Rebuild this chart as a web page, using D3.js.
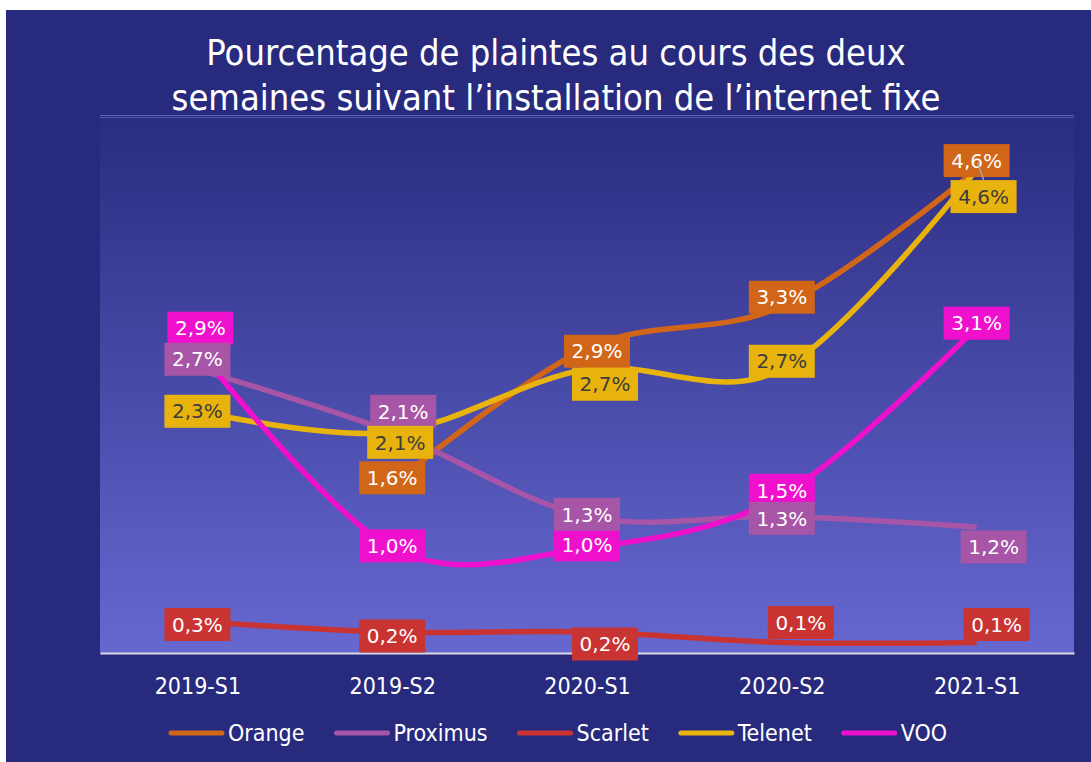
<!DOCTYPE html>
<html>
<head>
<meta charset="utf-8">
<script src="https://cdn.jsdelivr.net/npm/d3@7"></script>
<style>
  body { margin: 0; background: #fff; }
  .axis text { font-family: "DejaVu Sans Condensed", "DejaVu Sans", sans-serif; font-size: 23px; fill: #fff; }
</style>
</head>
<body>
<div id="chart"></div>
<script>
// data
var periods = ["2019-S1", "2019-S2", "2020-S1", "2020-S2", "2021-S1"];
var orange   = [null, 1.6, 2.9, 3.3, 4.6];
var proximus = [2.7, 2.1, 1.3, 1.3, 1.2];
var scarlet  = [0.3, 0.2, 0.2, 0.1, 0.1];
var telenet  = [2.3, 2.1, 2.7, 2.7, 4.6];
var voo      = [2.9, 1.0, 1.0, 1.5, 3.1];
var titleLines = ["Pourcentage de plaintes au cours des deux", "semaines suivant l\u2019installation de l\u2019internet fixe"];

(function(){
  var W = 1091, H = 762;
  var margin = {top: 116, right: 17, bottom: 109, left: 100};
  var width = W - margin.left - margin.right;
  var height = H - margin.top - margin.bottom;

  var series = [
    {id: "Orange",   values: orange,   color: "#d16518", text: "#fff"},
    {id: "Proximus", values: proximus, color: "#a755a6", text: "#fff"},
    {id: "Scarlet",  values: scarlet,  color: "#c93433", text: "#fff"},
    {id: "Telenet",  values: telenet,  color: "#e9b30e", text: "#3d3d3d"},
    {id: "VOO",      values: voo,      color: "#ef10cd", text: "#fff"}
  ];

  // label nudges (px) so boxes sit like on the slide
  var nudge = {
    Orange:   [[0,0],[0,-7],[10,3],[0,-9],[0,-9]],
    Proximus: [[0,-10],[11,-21],[0,-2],[0,2],[17,20]],
    Scarlet:  [[0,3],[0,4],[18,12],[19,-20],[20,-18]],
    Telenet:  [[0,0],[8,10],[18,15],[0,-8],[7,27]],
    VOO:      [[3,-20],[0,-2],[0,-3],[0,-5],[0,-4]]
  };
  var labelOrder = ["VOO", "Orange", "Scarlet", "Proximus", "Telenet"];

  var svg = d3.select("#chart").append("svg")
    .attr("width", W)
    .attr("height", H);

  var defs = svg.append("defs");
  var grad = defs.append("linearGradient")
    .attr("id", "plotbg")
    .attr("x1", 0).attr("y1", 0).attr("x2", 0).attr("y2", 1);
  grad.append("stop").attr("offset", "0%").attr("stop-color", "#2a2c80");
  grad.append("stop").attr("offset", "100%").attr("stop-color", "#6668d0");

  // slide background
  svg.append("rect")
    .attr("x", 6).attr("y", 10)
    .attr("width", W - 6).attr("height", H - 10)
    .attr("fill", "#282a7e");

  // title
  var title = svg.append("text")
    .attr("text-anchor", "middle")
    .style("font-family", "'DejaVu Sans Condensed', 'DejaVu Sans', sans-serif")
    .style("font-size", "36px")
    .attr("fill", "#fff");
  titleLines.forEach(function(t, i) {
    title.append("tspan").attr("x", 556).attr("y", 65 + i * 45).text(t);
  });

  var g = svg.append("g").attr("transform", "translate(" + margin.left + "," + margin.top + ")");

  g.append("rect")
    .attr("width", width)
    .attr("height", height)
    .attr("fill", "url(#plotbg)");
  g.append("line")
    .attr("x1", 0).attr("x2", width)
    .attr("y1", -0.5).attr("y2", -0.5)
    .attr("stroke", "#5d5fb6").attr("stroke-width", 1);
  g.append("line")
    .attr("x1", 0).attr("x2", width)
    .attr("y1", 1.5).attr("y2", 1.5)
    .attr("stroke", "#5456ad").attr("stroke-width", 1);

  // scales
  var x = d3.scalePoint().domain(periods).range([0, width]).padding(0.5);
  var y = d3.scaleLinear().domain([0, 5.11]).range([height, 0]);

  // x axis
  var xAxis = g.append("g")
    .attr("class", "axis")
    .attr("transform", "translate(0," + height + ")")
    .call(d3.axisBottom(x).tickSize(0).tickSizeOuter(0).tickPadding(25));
  xAxis.select(".domain").attr("stroke", "#d9d9e6").attr("stroke-width", 2);

  var line = d3.line()
    .defined(function(d) { return d != null; })
    .curve(d3.curveCatmullRom.alpha(0))
    .x(function(d, i) { return x(periods[i]); })
    .y(function(d) { return y(d); });

  g.selectAll(".series")
    .data(series)
    .enter().append("path")
    .attr("class", "series")
    .attr("d", function(d) { return line(d.values); })
    .attr("fill", "none")
    .attr("stroke", function(d) { return d.color; })
    .attr("stroke-width", 5.5);

  // data labels
  var bw = 66, bh = 33;
  labelOrder.forEach(function(id) {
    var s = series.filter(function(d) { return d.id === id; })[0];
    s.values.forEach(function(v, i) {
      if (v == null) return;
      var cx = x(periods[i]) + nudge[id][i][0];
      var cy = y(v) + nudge[id][i][1];
      g.append("rect")
        .attr("x", cx - bw / 2).attr("y", cy - bh / 2)
        .attr("width", bw).attr("height", bh)
        .attr("fill", s.color);
      g.append("text")
        .attr("x", cx).attr("y", cy)
        .attr("dy", "0.36em")
        .attr("text-anchor", "middle")
        .style("font-family", "'DejaVu Sans', sans-serif")
        .style("font-size", "20px")
        .attr("fill", s.text)
        .text(d3.format(".1f")(v).replace(".", ",") + "%");
    });
  });

  // leader line for the last Telenet label
  var lx = x(periods[4]), ly = y(telenet[4]);
  g.append("line")
    .attr("x1", lx + 1).attr("y1", ly - 7)
    .attr("x2", lx + nudge.Telenet[4][0]).attr("y2", ly + nudge.Telenet[4][1] - bh / 2)
    .attr("stroke", "#a6a6a6").attr("stroke-width", 1.5);

  // legend
  var legend = svg.append("g").attr("transform", "translate(0,733)");
  var lxPos = 168;
  series.forEach(function(s) {
    legend.append("line")
      .attr("x1", lxPos + 3).attr("x2", lxPos + 54)
      .attr("y1", 0).attr("y2", 0)
      .attr("stroke", s.color).attr("stroke-width", 5)
      .attr("stroke-linecap", "round");
    var t = legend.append("text")
      .attr("x", lxPos + 60).attr("y", 0)
      .attr("dy", "0.36em")
      .style("font-family", "'DejaVu Sans Condensed', 'DejaVu Sans', sans-serif")
      .style("font-size", "23px")
      .attr("fill", "#fff")
      .text(s.id);
    lxPos += 60 + t.node().getComputedTextLength() + 29;
  });
})();
</script>
</body>
</html>
